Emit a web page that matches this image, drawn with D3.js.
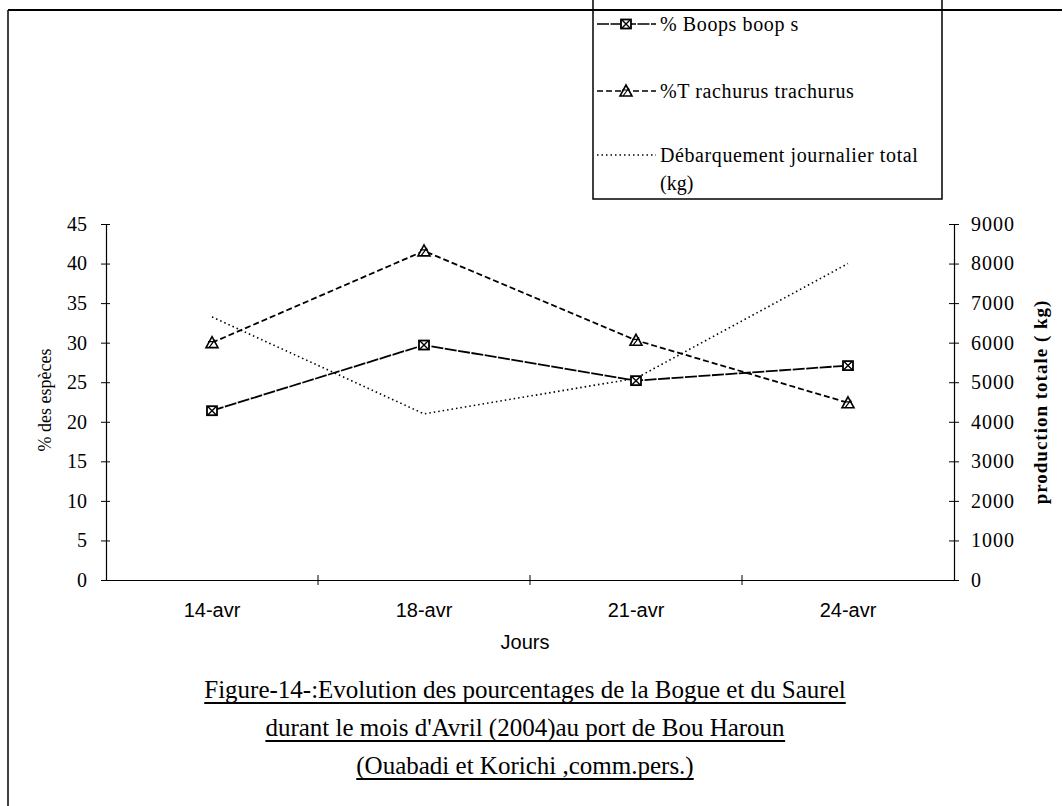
<!DOCTYPE html>
<html><head><meta charset="utf-8">
<script src="https://cdn.jsdelivr.net/npm/d3@7"></script>
<style>body{margin:0;background:#fff}svg{display:block}</style>
</head><body>
<svg id="c" width="1063" height="806"></svg>
<script>
const categories = ["14-avr","18-avr","21-avr","24-avr"];
const boops = [21.4, 29.7, 25.2, 27.1];
const trachurus = [30.0, 41.6, 30.3, 22.4];
const total = [6650, 4200, 5100, 8000];
const leftTicks = [0,5,10,15,20,25,30,35,40,45];
const rightTicks = [0,1000,2000,3000,4000,5000,6000,7000,8000,9000];
const legendLabels = ["% Boops boop s","%T rachurus trachurus","Débarquement journalier total"];
const titleLines = ["Figure-14-:Evolution des pourcentages de la Bogue et du Saurel",
  "durant le mois d'Avril (2004)au port de Bou Haroun",
  "(Ouabadi et Korichi ,comm.pers.)"];

const svg = d3.select("#c");
const serif = "'Liberation Serif','Times New Roman',serif";
const sans = "'Liberation Sans',Arial,sans-serif";
const L = 106, R = 954, T = 224, B = 580;

// frame
svg.append("line").attr("x1",8).attr("x2",1062).attr("y1",10).attr("y2",10).attr("stroke","#000").attr("stroke-width",2);
svg.append("line").attr("x1",8).attr("x2",8).attr("y1",10).attr("y2",806).attr("stroke","#000").attr("stroke-width",1.5);

const x = d3.scaleBand().domain(categories).range([L,R]).padding(0);
const yL = d3.scaleLinear().domain([0,45]).range([B,T]);
const yR = d3.scaleLinear().domain([0,9000]).range([B,T]);

// x axis
const gx = svg.append("g").attr("transform",`translate(0,${B})`)
  .call(d3.axisBottom(x).tickSize(0).tickSizeOuter(0).tickPadding(23));
gx.select(".domain").attr("stroke","#000").attr("stroke-width",1.2);
gx.selectAll("text").attr("font-family",sans).attr("font-size",20).attr("fill","#000");
// boundary ticks between categories
svg.append("g").selectAll("line").data(categories.slice(1)).join("line")
  .attr("x1",d=>x(d)).attr("x2",d=>x(d)).attr("y1",B-5).attr("y2",B+5).attr("stroke","#000");

// left axis
const gl = svg.append("g").attr("transform",`translate(${L},0)`)
  .call(d3.axisLeft(yL).tickValues(leftTicks).tickSize(5).tickSizeOuter(0).tickPadding(14));
gl.select(".domain").attr("stroke","#000").attr("stroke-width",1.2);
gl.selectAll(".tick line").attr("x1",4).attr("x2",-5);
gl.selectAll("text").attr("font-family",serif).attr("font-size",20).attr("fill","#000");

// right axis
const gr = svg.append("g").attr("transform",`translate(${R},0)`)
  .call(d3.axisRight(yR).tickValues(rightTicks).tickFormat(d3.format("d")).tickSize(5).tickSizeOuter(0).tickPadding(12));
gr.select(".domain").attr("stroke","#000").attr("stroke-width",1.2);
gr.selectAll(".tick line").attr("x1",-5).attr("x2",5);
gr.selectAll("text").attr("font-family",serif).attr("font-size",20).attr("letter-spacing",1).attr("fill","#000");

// axis titles
svg.append("text").attr("transform","translate(51,400) rotate(-90)").attr("text-anchor","middle")
  .attr("font-family",serif).attr("font-size",18).text("% des espèces");
svg.append("text").attr("transform","translate(1047,402) rotate(-90)").attr("text-anchor","middle")
  .attr("font-family",serif).attr("font-size",19).attr("font-weight","bold").attr("letter-spacing",1).text("production totale ( kg)");
svg.append("text").attr("x",525).attr("y",649).attr("text-anchor","middle")
  .attr("font-family",sans).attr("font-size",20).text("Jours");

const cx = d => x(d) + x.bandwidth()/2;

// lines
const lineL = d3.line().x((d,i)=>cx(categories[i])).y(d=>yL(d));
const lineR = d3.line().x((d,i)=>cx(categories[i])).y(d=>yR(d));
svg.append("path").attr("d",lineR(total)).attr("fill","none").attr("stroke","#000").attr("stroke-width",1.6).attr("stroke-dasharray","1.5,3");
svg.append("path").attr("d",lineL(trachurus)).attr("fill","none").attr("stroke","#000").attr("stroke-width",1.8).attr("stroke-dasharray","6,3");
svg.append("path").attr("d",lineL(boops)).attr("fill","none").attr("stroke","#000").attr("stroke-width",1.8).attr("stroke-dasharray","12,1.5");

function sqMarker(g, px, py){
  g.append("rect").attr("x",px-5).attr("y",py-4.5).attr("width",10).attr("height",9).attr("fill","#fff").attr("stroke","#000").attr("stroke-width",1.8);
  g.append("path").attr("d",`M${px-4},${py-4}L${px+4},${py+4}M${px+4},${py-4}L${px-4},${py+4}`).attr("stroke","#000").attr("stroke-width",1.4);
}
function triMarker(g, px, py){
  g.append("path").attr("d",`M${px},${py-6}L${px+6},${py+5}L${px-6},${py+5}Z`).attr("fill","#fff").attr("stroke","#000").attr("stroke-width",1.6);
  g.append("path").attr("d",`M${px-4},${py-1}L${px+4},${py-1}M${px-3},${py+5}L${px+3},${py-3}`).attr("stroke","#000").attr("stroke-width",1.2);
}
const mk = svg.append("g");
boops.forEach((v,i)=>sqMarker(mk, cx(categories[i]), yL(v)));
trachurus.forEach((v,i)=>triMarker(mk, cx(categories[i]), yL(v)));

// legend
const lg = svg.append("g");
lg.append("path").attr("d","M593,0V199H942V0").attr("fill","none").attr("stroke","#000").attr("stroke-width",1.5);
const ly = [24, 91, 155];
const styles = [{dash:"12,1.5",m:"sq"},{dash:"6,3",m:"tri"},{dash:"1.5,3",m:null}];
legendLabels.forEach((lab,i)=>{
  lg.append("line").attr("x1",597).attr("x2",656).attr("y1",ly[i]).attr("y2",ly[i])
    .attr("stroke","#000").attr("stroke-width",1.6).attr("stroke-dasharray",styles[i].dash);
  if(styles[i].m==="sq") sqMarker(lg,626,ly[i]);
  if(styles[i].m==="tri") triMarker(lg,626,ly[i]);
  lg.append("text").attr("x",660).attr("y",ly[i]+7).attr("font-family",serif).attr("font-size",20).attr("letter-spacing",0.6).text(lab);
});
lg.append("text").attr("x",660).attr("y",190).attr("font-family",serif).attr("font-size",20).text("(kg)");

// title
const tY = [698, 736, 774];
titleLines.forEach((t,i)=>{
  const tx = svg.append("text").attr("x",525).attr("y",tY[i]).attr("text-anchor","middle")
    .attr("font-family",serif).attr("font-size",25).text(t);
  const bb = tx.node().getBBox();
  svg.append("line").attr("x1",bb.x).attr("x2",bb.x+bb.width).attr("y1",tY[i]+5).attr("y2",tY[i]+5)
    .attr("stroke","#000").attr("stroke-width",2);
});
</script>
</body></html>
